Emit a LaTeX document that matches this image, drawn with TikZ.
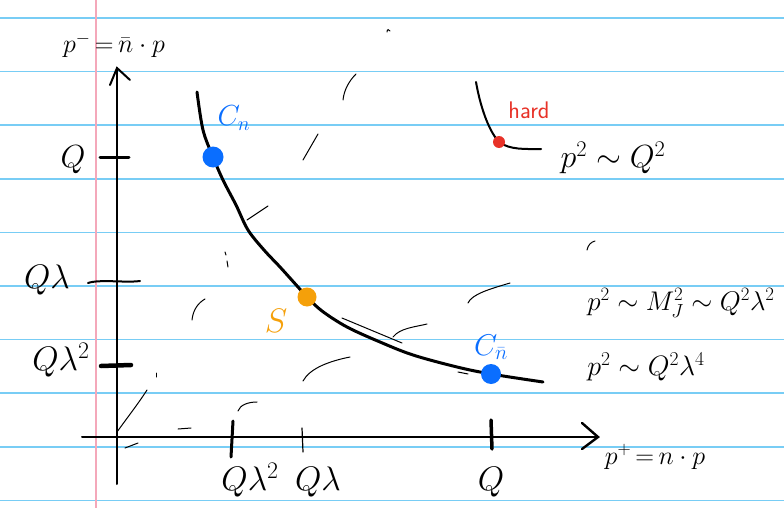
\RequirePackage{fix-cm}
\documentclass[tikz,border=0pt]{standalone}
\usepackage{amsmath}
\definecolor{ruleblue}{RGB}{120,205,245}
\definecolor{marginpink}{RGB}{244,168,186}
\definecolor{dotblue}{RGB}{10,110,255}
\definecolor{dotorange}{RGB}{245,160,10}
\definecolor{dotred}{RGB}{232,50,40}
\tikzset{
  rule/.style={ruleblue, line width=1.6pt},
  axis/.style={black, line width=2pt, line cap=round},
  tickmark/.style={black, line width=3pt, line cap=round},
  thintick/.style={black, line width=1.2pt, line cap=round},
  stroke/.style={black, line width=1pt, line cap=round},
  curve/.style={black, line width=3pt, line cap=round, line join=round},
  lbl/.style={inner sep=0pt, font=\fontsize{#1}{#1}\selectfont},
  dot/.style={circle, inner sep=0pt, minimum size=#1},
}
\begin{document}
\begin{tikzpicture}[x=1pt, y=-1pt]
\useasboundingbox (0,0) rectangle (784,508);
\fill[white] (0,0) rectangle (784,508);
% ruled paper
\foreach \k in {0,...,9} {
  \draw[rule] (0,{18+53.6*\k}) -- (784,{18+53.6*\k});
}
\draw[marginpink, line width=1.6pt] (96,0) -- (96,508);

% axes
\coordinate (ybot) at (117,484);
\coordinate (ytop) at (117,68);
\coordinate (xleft) at (82,437);
\coordinate (xright) at (598,437);
\draw[axis] (ybot) -- (ytop);
\draw[axis] (110,85) -- (ytop) -- (130,80);
\draw[axis] (xleft) -- (xright);
\draw[axis, line width=2.4pt] (582,423) -- (xright) -- (582,449);

% y ticks
\draw[tickmark] (100,157) -- (129,157);
\draw[axis] (88,283) .. controls (100,279) and (125,283) .. (140,281);
\draw[black, line width=4.5pt, line cap=round] (101,366) -- (131,365);
% x ticks
\draw[tickmark] (233,421) -- (231,457);
\draw[thintick] (302,428) -- (303,452);
\draw[black, line width=3.5pt, line cap=round] (491,420) -- (492,449);

% axis labels
\node[lbl=26] (pminus) at (114,45) {$p^{-}\,{=}\,\bar n\cdot p$};
\node[lbl=26] (pplus) at (655,457) {$p^{+}\,{=}\,n\cdot p$};
\node[lbl=32] (yQ) at (73,160) {$Q$};
\node[lbl=34] (yQl) at (47,280) {$Q\lambda$};
\node[lbl=34] (yQll) at (61,360) {$Q\lambda^2$};
\node[lbl=34] (xQll) at (250,480) {$Q\lambda^2$};
\node[lbl=34] (xQl) at (318,482) {$Q\lambda$};
\node[lbl=34] (xQ) at (491,482) {$Q$};

% main curve
\draw[curve] plot[smooth, tension=0.55] coordinates {
  (197,92) (203,130) (213,157) (223,180) (236,205) (248,230) (264,250)
  (280,267) (298,287) (307,297) (322,311) (347,327) (380,342) (413,355)
  (457,367) (491,374) (543,382)};
\draw[stroke] (342,318) -- (402,343);
\node[dot=21pt, fill=dotblue] (cn) at (213,157) {};
\node[dot=19pt, fill=dotorange] (s) at (307,297) {};
\node[dot=20pt, fill=dotblue] (cnb) at (491,374) {};

% hard corner
\coordinate (h0) at (476,82);
\coordinate (h1) at (541,149);
\coordinate (hc) at (499,142);
\draw[black, line width=2pt, line cap=round] (h0) .. controls (480,105) and (488,130) .. (hc);
\draw[black, line width=2pt, line cap=round] (hc) .. controls (510,150) and (525,149) .. (h1);
\node[dot=12pt, fill=dotred] (hard) at (hc) {};

% curve labels
\node[lbl=29, text=dotblue] (lcn) at (234,118) {$C_n$};
\node[lbl=34, text=dotorange] (ls) at (276,321) {$S$};
\node[lbl=30, text=dotblue] (lcnb) at (491,347) {$C_{\bar n}$};
\node[inner sep=0pt, text=dotred, font=\fontsize{24}{28}\selectfont\sffamily] (lhard) at (529,110) {hard};

% scaling relations
\node[lbl=32] (r1) at (613,158) {$p^2\sim Q^2$};
\node[lbl=27] (r2) at (681,303) {$p^2\sim M_J^2\sim Q^2\lambda^2$};
\node[lbl=28] (r3) at (646,367) {$p^2\sim Q^2\lambda^4$};

% stray pen strokes
\draw[stroke] (387,32) .. controls (387,29) and (389,29) .. (390,31);
\draw[stroke] (343,100) .. controls (344,90) and (349,81) .. (356,74);
\draw[stroke] (303,160) -- (318,134);
\draw[stroke] (247,220) -- (268,206);
\draw[stroke] (225,252) -- (226,255);
\draw[stroke] (227,261) -- (228,267);
\draw[stroke] (192,320) .. controls (193,310) and (198,303) .. (205,299);
\draw[stroke] (156,373) -- (156,377);
\draw[stroke] (117,432) .. controls (127,418) and (138,404) .. (147,390);
\draw[stroke] (178,429) -- (191,428);
\draw[stroke] (238,411) .. controls (240,405) and (248,402) .. (257,402);
\draw[stroke] (125,448) -- (138,443);
\draw[stroke] (303,381) .. controls (310,368) and (330,361) .. (350,357);
\draw[stroke] (393,337) .. controls (400,328) and (415,327) .. (427,324);
\draw[stroke] (468,303) .. controls (472,294) and (490,289) .. (510,283);
\draw[stroke] (458,372) -- (468,374);
\draw[stroke] (587,250) .. controls (588,245) and (591,242) .. (595,241);
\end{tikzpicture}
\end{document}
